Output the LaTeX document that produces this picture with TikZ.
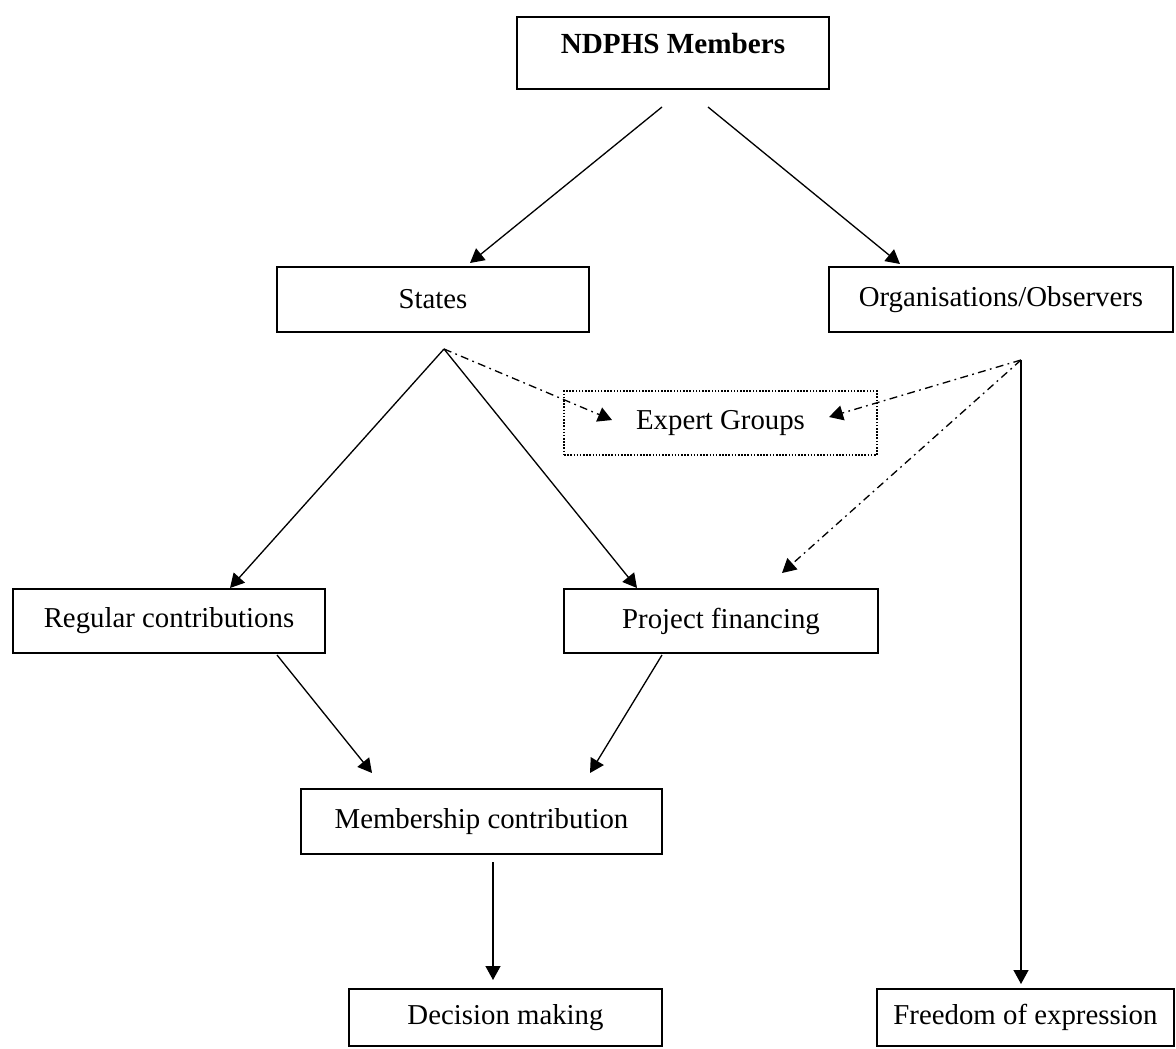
\documentclass[tikz,border=0pt]{standalone}
\usepackage{fontspec}
\setmainfont{Liberation Serif}
\usetikzlibrary{arrows.meta}
\tikzset{
  box/.style={draw,line width=1.1pt,inner sep=0pt,minimum height=1.3cm,font=\fontsize{16.4}{19}\selectfont},
  link/.style={->,line width=0.75pt},
  dashdot/.style={->,line width=0.75pt,dash pattern=on 4.5pt off 2.5pt on 1pt off 2.5pt}
}
\begin{document}
\begin{tikzpicture}[>={Triangle[length=0.28cm,width=0.3cm]},x=0.02cm,y=-0.02cm]
\useasboundingbox (0,0) rectangle (1176,1048);
\node[box,minimum width=6.24cm,minimum height=1.44cm,text height=0.42cm,text depth=0.42cm,font=\fontsize{16.6}{19}\selectfont\bfseries](members) at (673,53){NDPHS Members};
\node[box,minimum width=6.24cm](states) at (433,299.5){States};
\node[box,minimum width=6.88cm](orgs) at (1001,299.5){Organisations/Observers};
\node[box,minimum width=6.26cm,minimum height=1.28cm,line width=0.9pt,dash pattern=on 0.9pt off 0.9pt](experts) at (720.5,423){Expert Groups};
\node[box,minimum width=6.24cm,minimum height=1.28cm](regular) at (169,621){Regular contributions};
\node[box,minimum width=6.28cm,minimum height=1.28cm](project) at (721,621){Project financing};
\node[box,minimum width=7.22cm](membership) at (481.5,821.5){Membership contribution};
\node[box,minimum width=6.26cm,minimum height=1.14cm](decision) at (505.5,1017.5){Decision making};
\node[box,minimum width=5.94cm,minimum height=1.14cm](freedom) at (1025.5,1017.5){Freedom of expression};
\coordinate (membersL) at (662,107);
\coordinate (membersR) at (708,107);
\coordinate (statesIn) at (470,263);
\coordinate (orgsIn) at (900,264);
\coordinate (statesOut) at (444,349);
\coordinate (orgsOut) at (1021,360);
\coordinate (expertsL) at (612,420);
\coordinate (expertsR) at (829,417);
\coordinate (regularIn) at (230,588);
\coordinate (projectIn) at (637,588);
\coordinate (projectIn2) at (782,573);
\coordinate (regularOut) at (277,655);
\coordinate (projectOut) at (662,655);
\coordinate (membershipL) at (372,773);
\coordinate (membershipR) at (590,773);
\coordinate (membershipOut) at (493,862);
\coordinate (decisionIn) at (493,980);
\coordinate (freedomIn) at (1021,984);
\draw[link](membersL)--(statesIn);
\draw[link](membersR)--(orgsIn);
\draw[link](statesOut)--(regularIn);
\draw[link](statesOut)--(projectIn);
\draw[dashdot](statesOut)--(expertsL);
\draw[dashdot](orgsOut)--(expertsR);
\draw[dashdot](orgsOut)--(projectIn2);
\draw[link](orgsOut)--(freedomIn);
\draw[link](regularOut)--(membershipL);
\draw[link](projectOut)--(membershipR);
\draw[link](membershipOut)--(decisionIn);
\end{tikzpicture}
\end{document}
